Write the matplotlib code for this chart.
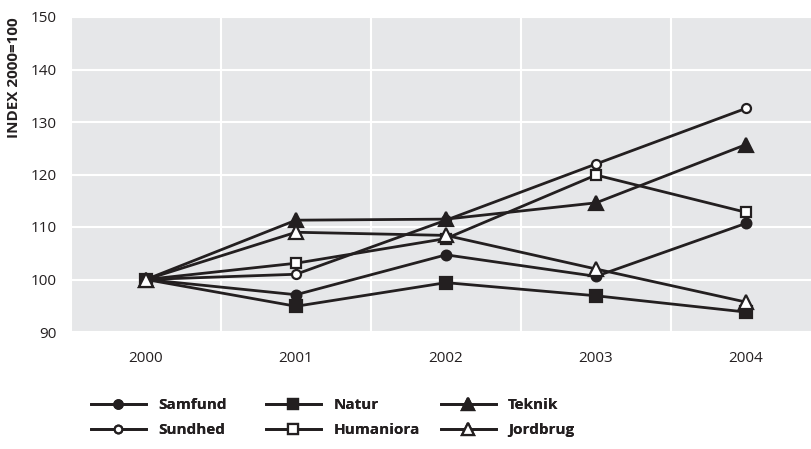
import matplotlib
matplotlib.use("Agg")
import matplotlib.pyplot as plt
from matplotlib.lines import Line2D

years = ["2000", "2001", "2002", "2003", "2004"]
samfund = [100, 97.1, 104.7, 100.6, 110.7]
natur = [100, 94.9, 99.4, 96.9, 93.8]
teknik = [100, 111.3, 111.5, 114.6, 125.7]
sundhed = [100, 101.0, 111.3, 122.0, 132.6]
humaniora = [100, 103.1, 107.8, 119.9, 112.8]
jordbrug = [100, 109.0, 108.4, 102.0, 95.7]

INK = "#231f20"
# name, values, marker, face, plot size, legend size, zorder
series = [
    ("Sundhed", sundhed, "o", "white", 6.5, 5.5, 3),
    ("Humaniora", humaniora, "s", "white", 7.5, 6.5, 3.1),
    ("Samfund", samfund, "o", INK, 7, 6, 3.2),
    ("Natur", natur, "s", INK, 8, 7, 3.3),
    ("Teknik", teknik, "^", INK, 9.5, 8.5, 3.4),
    ("Jordbrug", jordbrug, "^", "white", 9.5, 8, 3.5),
]

plt.rcParams['font.family'] = ['Open Sans', 'DejaVu Sans']
fig = plt.figure(figsize=(8.12, 4.49), dpi=100)
W, H = 812, 449
ax = fig.add_axes([71 / W, 1 - 332 / H, 750 / W, 315 / H])
ax.set_facecolor("#e6e7e9")
x = list(range(len(years)))
handles = {}
for name, vals, m, fc, ms, lms, z in series:
    ax.plot(x, vals, color=INK, lw=2, marker=m, markersize=ms,
            markerfacecolor=fc, markeredgecolor=INK, markeredgewidth=1.6,
            label=name, zorder=z)
    handles[name] = Line2D([], [], color=INK, lw=2, marker=m, markersize=lms,
                           markerfacecolor=fc, markeredgecolor=INK,
                           markeredgewidth=1.6)

ax.set_xlim(-0.5, 4.5)
ax.set_ylim(90, 150)
ax.set_yticks([90, 100, 110, 120, 130, 140, 150])
ax.set_xticks(x)
ax.set_xticklabels(years)
ax.set_xticks([-0.5, 0.5, 1.5, 2.5, 3.5], minor=True)
ax.grid(False)
ax.yaxis.grid(True, color="white", lw=1.5)
ax.xaxis.grid(True, which="minor", color="white", lw=1.5)
ax.set_axisbelow(True)
for s in ax.spines.values():
    s.set_visible(False)
ax.tick_params(axis="both", which="both", length=0, labelsize=11, colors=INK)
ax.tick_params(axis="y", pad=10)
ax.tick_params(axis="x", pad=14)

fig.text(14 / W, 1 - 78 / H, "INDEX 2000=100", rotation=90, ha="center", va="center",
         fontsize=11, fontweight="bold", color=INK)

cols = [("Samfund", "Sundhed", 91), ("Natur", "Humaniora", 266), ("Teknik", "Jordbrug", 441)]
for a, b, px in cols:
    leg = fig.legend([handles[a], handles[b]], [a, b], loc="upper left",
                     bbox_to_anchor=(px / W, 1 - 398 / H), frameon=False,
                     handlelength=3.6, handletextpad=0.8, labelspacing=0.72,
                     prop={"weight": "bold", "size": 11}, borderaxespad=0, borderpad=0)
    for t in leg.get_texts():
        t.set_color(INK)
    fig.add_artist(leg)

fig.savefig("out.png", dpi=100)
